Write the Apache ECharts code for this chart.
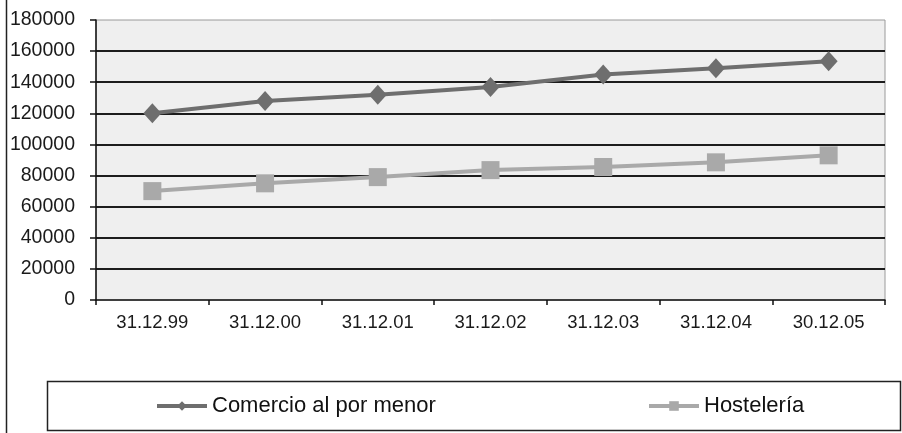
<!DOCTYPE html>
<html>
<head>
<meta charset="utf-8">
<script src="https://cdn.jsdelivr.net/npm/echarts@6/dist/echarts.min.js"></script>
<style>
  html, body { margin: 0; padding: 0; background: #ffffff; }
  #chart { width: 902px; height: 433px; }
</style>
</head>
<body>
<div id="chart"></div>
<script>
// Dates of the year-end counts
const categories = ['31.12.99', '31.12.00', '31.12.01', '31.12.02', '31.12.03', '31.12.04', '30.12.05'];
// Establishments per sector
const comercio = [120000, 128000, 132000, 137000, 145000, 149000, 153500];
const hosteleria = [70000, 75000, 79000, 83500, 85500, 88500, 93000];
const seriesNames = ['Comercio al por menor', 'Hostelería'];

const FONT = 'Arial, "Liberation Sans", sans-serif';
const chart = echarts.init(document.getElementById('chart'), null, { renderer: 'canvas' });

const legendCommon = {
  itemWidth: 50, itemHeight: 12, itemGap: 0, top: 395, padding: 0,
  lineStyle: { width: 4 },
  textStyle: { color: '#111', fontSize: 22, fontFamily: FONT }
};

chart.setOption({
  backgroundColor: '#ffffff',
  animation: false,
  textStyle: { fontFamily: FONT },
  grid: {
    left: 96, top: 20, right: 17, bottom: 133,
    show: true,
    backgroundColor: '#efefef',
    borderColor: '#9a9a9a',
    borderWidth: 1
  },
  xAxis: {
    type: 'category',
    data: categories,
    boundaryGap: true,
    axisLine: { lineStyle: { color: '#111', width: 1.5 } },
    axisTick: { show: true, length: 5, lineStyle: { color: '#111', width: 1.5 } },
    axisLabel: { color: '#1a1a1a', fontSize: 18.5, fontFamily: FONT, margin: 13 },
    splitLine: { show: false }
  },
  yAxis: {
    type: 'value',
    min: 0, max: 180000, interval: 20000,
    axisLine: { show: true, lineStyle: { color: '#111', width: 1.5 } },
    axisTick: { show: true, length: 6, lineStyle: { color: '#111', width: 1.5 } },
    axisLabel: {
      color: '#1a1a1a', fontSize: 19.5, fontFamily: FONT, margin: 21,
      formatter: (v) => String(v)
    },
    splitLine: { show: true, showMaxLine: false, showMinLine: false, lineStyle: { color: '#1c1c1c', width: 2 } }
  },
  legend: [
    Object.assign({ data: [seriesNames[0]], left: 155 }, legendCommon),
    Object.assign({ data: [seriesNames[1]], left: 647 }, legendCommon)
  ],
  graphic: [
    // outer frame edge on the left
    { type: 'line', shape: { x1: 6.5, y1: 0, x2: 6.5, y2: 433 }, style: { stroke: '#222', lineWidth: 1.5 }, silent: true },
    // legend frame
    { type: 'rect', shape: { x: 47.5, y: 381.5, width: 853, height: 49 }, style: { fill: 'none', stroke: '#222', lineWidth: 1.5 }, silent: true, z: -1 }
  ],
  series: [
    {
      name: seriesNames[0],
      type: 'line',
      data: comercio,
      symbol: 'diamond',
      symbolSize: [18, 20],
      lineStyle: { color: '#6e6e6e', width: 4 },
      itemStyle: { color: '#6e6e6e' },
      z: 3
    },
    {
      name: seriesNames[1],
      type: 'line',
      data: hosteleria,
      symbol: 'rect',
      symbolSize: 18,
      lineStyle: { color: '#a9a9a9', width: 4 },
      itemStyle: { color: '#a9a9a9' },
      z: 2
    }
  ]
});
</script>
</body>
</html>
